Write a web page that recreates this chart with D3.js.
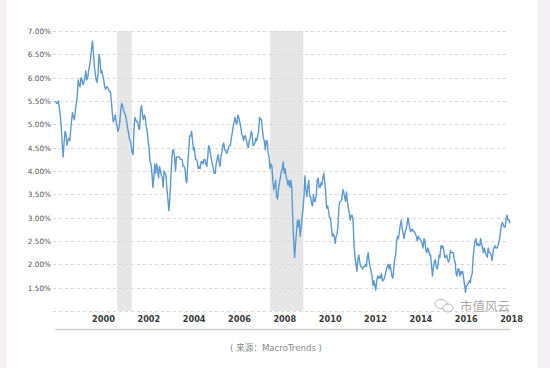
<!DOCTYPE html>
<html>
<head>
<meta charset="utf-8">
<script src="https://cdn.jsdelivr.net/npm/d3@7/dist/d3.min.js"></script>
<style>
  html, body { margin: 0; padding: 0; background: #f6f1f4; }
  svg { display: block; }
</style>
</head>
<body>
<svg id="chart" width="550" height="368"></svg>
<script>
// ---- data (semi-monthly 10-year yield, %, starting June 1998) ----
const startYear = 1998, startMonth = 5; // June 1998 (0-based month)
const yields = [
  // 1998 Jun-Dec
  5.50,5.45, 5.45,5.50, 5.35,5.20, 4.95,4.60, 4.30,4.60, 4.85,4.80, 4.55,4.65,
  // 1999
  4.70,4.65, 4.90,5.10, 5.25,5.15, 5.10,5.30, 5.45,5.60, 5.95,5.85, 5.80,6.00, 5.95,5.85, 5.90,6.00, 6.15,5.95, 6.00,6.15, 6.25,6.40,
  // 2000
  6.60,6.78, 6.55,6.25, 6.10,5.95, 5.90,6.10, 6.50,6.40, 6.10,6.15, 6.05,5.95, 5.80,5.75, 5.80,5.80, 5.75,5.70, 5.70,5.50, 5.25,5.05,
  // 2001
  5.10,5.20, 5.05,4.95, 4.85,4.90, 5.05,5.30, 5.45,5.40, 5.30,5.25, 5.20,5.10, 4.95,4.85, 4.70,4.65, 4.55,4.40, 4.35,4.90, 5.15,5.10,
  // 2002
  5.05,5.05, 4.90,4.90, 5.30,5.40, 5.20,5.10, 5.20,5.15, 4.95,4.85, 4.65,4.50, 4.20,4.15, 3.95,3.65, 3.85,4.15, 3.95,4.15, 4.05,3.85,
  // 2003
  4.10,4.00, 3.90,3.85, 3.65,4.00, 3.95,3.90, 3.60,3.40, 3.15,3.40, 3.80,4.20, 4.45,4.45, 4.30,4.00, 4.30,4.30, 4.30,4.30, 4.25,4.25,
  // 2004
  4.25,4.10, 4.10,4.05, 3.80,3.75, 4.20,4.45, 4.75,4.75, 4.85,4.65, 4.45,4.50, 4.25,4.25, 4.20,4.05, 4.10,4.05, 4.20,4.20, 4.15,4.25,
  // 2005
  4.25,4.15, 4.10,4.30, 4.55,4.50, 4.35,4.25, 4.15,4.05, 3.95,3.95, 4.15,4.25, 4.35,4.20, 4.10,4.30, 4.40,4.55, 4.60,4.45, 4.45,4.38,
  // 2006
  4.40,4.50, 4.55,4.55, 4.70,4.80, 4.95,5.05, 5.15,5.05, 5.00,5.20, 5.15,5.05, 4.95,4.80, 4.75,4.65, 4.75,4.75, 4.65,4.55, 4.50,4.65,
  // 2007
  4.70,4.85, 4.80,4.55, 4.55,4.60, 4.70,4.65, 4.75,4.85, 5.15,5.10, 5.10,4.90, 4.70,4.65, 4.45,4.65, 4.65,4.40, 4.30,4.05, 4.15,4.10,
  // 2008
  3.80,3.60, 3.70,3.80, 3.45,3.40, 3.60,3.75, 3.85,4.00, 4.05,4.20, 3.95,4.05, 3.90,3.80, 3.70,3.80, 3.65,3.80, 3.65,3.00, 2.50,2.15,
  // 2009
  2.45,2.70, 2.95,2.80, 2.95,2.60, 2.80,3.00, 3.20,3.45, 3.90,3.60, 3.45,3.65, 3.80,3.45, 3.45,3.30, 3.25,3.50, 3.35,3.35, 3.50,3.80,
  // 2010
  3.85,3.65, 3.65,3.75, 3.70,3.85, 3.95,3.75, 3.55,3.20, 3.25,3.15, 3.00,3.00, 2.80,2.60, 2.65,2.60, 2.45,2.60, 2.65,2.85, 3.25,3.35,
  // 2011
  3.35,3.40, 3.60,3.55, 3.45,3.35, 3.55,3.35, 3.20,3.10, 2.95,3.05, 3.05,2.95, 2.40,2.15, 2.00,1.85, 2.10,2.20, 2.05,1.95, 1.95,1.90,
  // 2012
  1.95,1.95, 2.00,1.95, 2.15,2.25, 2.05,1.95, 1.85,1.75, 1.55,1.65, 1.55,1.45, 1.65,1.75, 1.70,1.75, 1.70,1.80, 1.65,1.65, 1.70,1.78,
  // 2013
  1.88,1.95, 2.00,1.90, 2.00,1.90, 1.75,1.70, 1.90,2.10, 2.20,2.50, 2.60,2.55, 2.70,2.85, 2.95,2.75, 2.65,2.55, 2.70,2.75, 2.85,3.00,
  // 2014
  2.90,2.75, 2.70,2.75, 2.75,2.70, 2.70,2.65, 2.60,2.50, 2.60,2.55, 2.55,2.50, 2.45,2.35, 2.55,2.50, 2.30,2.25, 2.35,2.30, 2.20,2.20,
  // 2015
  1.95,1.75, 1.95,2.05, 2.10,1.95, 1.90,2.00, 2.20,2.15, 2.40,2.35, 2.40,2.30, 2.15,2.15, 2.20,2.10, 2.05,2.10, 2.30,2.25, 2.25,2.25,
  // 2016
  2.10,2.05, 1.80,1.75, 1.90,1.90, 1.75,1.85, 1.80,1.85, 1.70,1.55, 1.40,1.55, 1.55,1.60, 1.65,1.60, 1.75,1.80, 2.15,2.35, 2.50,2.55,
  // 2017
  2.40,2.45, 2.40,2.40, 2.55,2.45, 2.35,2.25, 2.35,2.25, 2.20,2.15, 2.35,2.25, 2.25,2.20, 2.08,2.25, 2.35,2.40, 2.35,2.35, 2.38,2.45,
  // 2018 Jan-Jun
  2.55,2.70, 2.85,2.90, 2.85,2.80, 2.80,2.98, 3.05,2.95, 2.95,2.88
];
const recessions = [["2001-02-20","2001-10-18"],["2007-11-23","2009-05-14"]];
const yTicks = [1.5,2,2.5,3,3.5,4,4.5,5,5.5,6,6.5,7];
const gridValues = [1,1.5,2,2.5,3,3.5,4,4.5,5,5.5,6,6.5,7];
const xTickYears = [2000,2002,2004,2006,2008,2010,2012,2014,2016,2018];
const sourceText = "( 来源：MacroTrends )";
const watermarkText = "市值风云";

// ---- drawing ----
const svg = d3.select("#chart");
svg.append("rect").attr("x",7).attr("y",0).attr("width",530).attr("height",368).attr("fill","#ffffff");

const parse = d3.timeParse("%Y-%m-%d");
const data = yields.map((v,i) => ({
  date: new Date(startYear, startMonth + Math.floor(i/2), i % 2 ? 23 : 8),
  value: v
}));

const x = d3.scaleTime()
  .domain([new Date(1998,4,1), new Date(2018,6,1)])
  .range([53.2, 510.4]);
const y = d3.scaleLinear().domain([1,7]).range([311,31]);

// recession bands
svg.append("g").selectAll("rect").data(recessions).join("rect")
  .attr("x", d => x(parse(d[0])))
  .attr("width", d => x(parse(d[1])) - x(parse(d[0])))
  .attr("y", y(7))
  .attr("height", y(1) - y(7))
  .attr("fill", "#e6e6e6");

// grid lines
svg.append("g").selectAll("line").data(gridValues).join("line")
  .attr("x1", 53).attr("x2", 508)
  .attr("y1", d => Math.round(y(d)) + 0.5).attr("y2", d => Math.round(y(d)) + 0.5)
  .attr("stroke", "#d9d9d9").attr("stroke-width", 1)
  .attr("stroke-dasharray", "3,3");

// y axis labels
const yAxis = d3.axisLeft(y).tickValues(yTicks).tickSize(0).tickPadding(0)
  .tickFormat(d => d3.format(".2f")(d) + "%");
const gy = svg.append("g").attr("transform","translate(51,0)").call(yAxis);
gy.select(".domain").remove();
gy.selectAll("text").attr("font-family","DejaVu Sans, sans-serif").attr("font-size","7.3px").attr("fill","#555");

// x axis labels
const xAxis = d3.axisBottom(x).tickValues(xTickYears.map(yy => new Date(yy,0,1)))
  .tickSize(0).tickPadding(0).tickFormat(d3.timeFormat("%Y"));
const gx = svg.append("g").attr("transform","translate(0,316)").call(xAxis);
gx.select(".domain").remove();
gx.selectAll("text").attr("text-anchor","start").attr("dx","0.5")
  .attr("font-family","DejaVu Sans, sans-serif").attr("font-size","8.2px")
  .attr("font-weight","600").attr("fill","#3a3a3a");

// bottom solid line
svg.append("line").attr("x1",55).attr("x2",511).attr("y1",329.5).attr("y2",329.5)
  .attr("stroke","#d0d0d0").attr("stroke-width",1.5);

// data line
const line = d3.line().x(d => x(d.date)).y(d => y(d.value));
svg.append("path").datum(data)
  .attr("d", line).attr("fill","none")
  .attr("stroke","#5b9bd5").attr("stroke-width",1.4).attr("stroke-linejoin","round");

// watermark
const wm = svg.append("g").attr("fill","none").attr("stroke","#b0b0b0").attr("stroke-width",0.9);
wm.append("ellipse").attr("cx",441).attr("cy",304).attr("rx",6).attr("ry",4.5);
wm.append("ellipse").attr("cx",448).attr("cy",308).attr("rx",5).attr("ry",4).attr("fill","#fff");
svg.append("text").attr("x",460).attr("y",311).text(watermarkText)
  .attr("font-family","Noto Sans CJK SC, sans-serif").attr("font-size","12.5px").attr("fill","#a8a8a8");

// source
svg.append("text").attr("x",276).attr("y",351).attr("text-anchor","middle").text(sourceText)
  .attr("font-family","DejaVu Sans, Noto Sans CJK SC, sans-serif").attr("font-size","8.6px").attr("fill","#888");
</script>
</body>
</html>
